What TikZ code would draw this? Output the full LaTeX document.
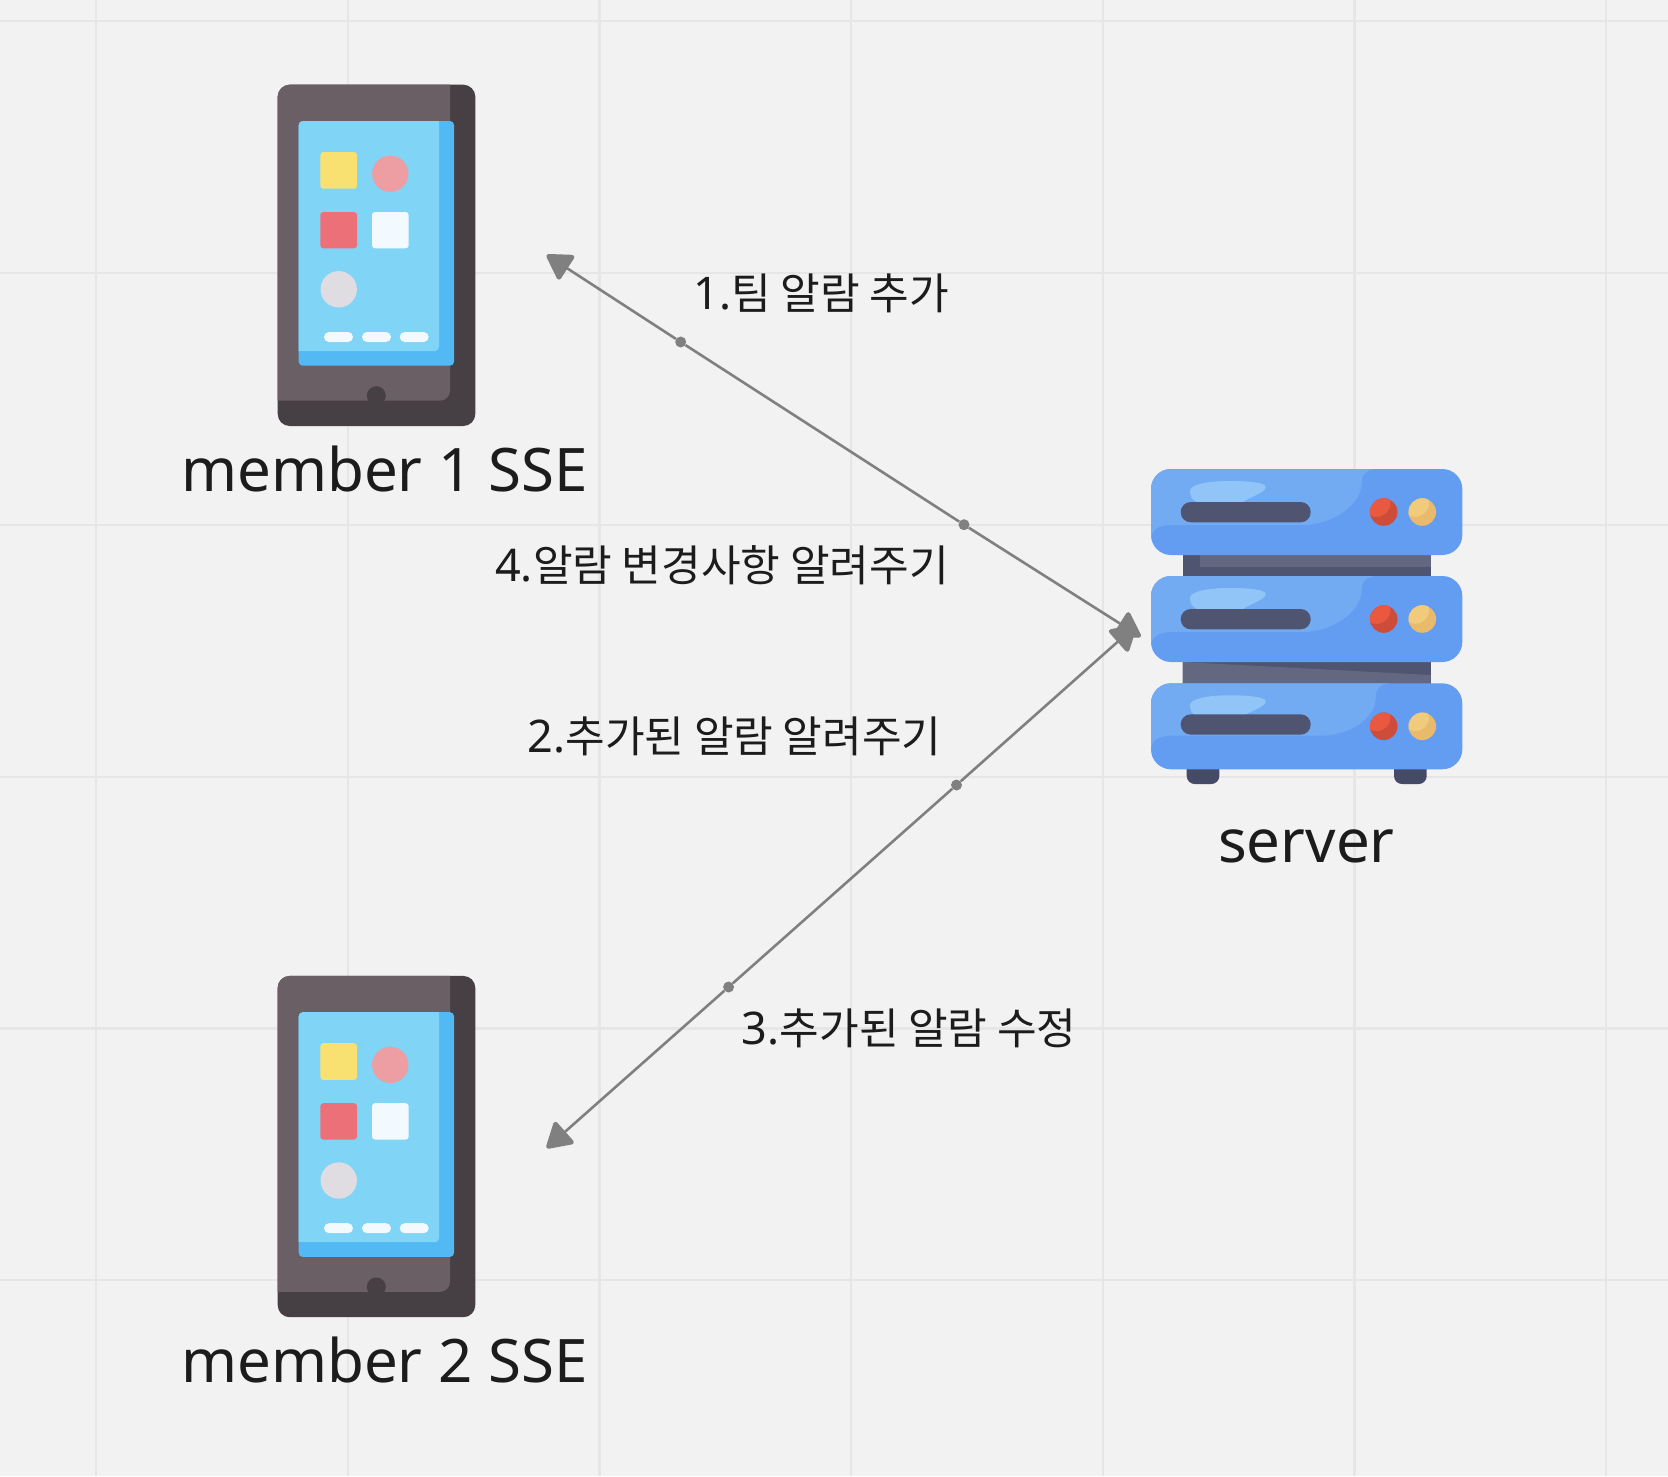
\documentclass[tikz,border=0pt]{standalone}
\usepackage{fontspec}
\setmainfont{Noto Sans}
\newfontfamily\krfont[Scale=0.958]{Noto Sans CJK KR}
\usetikzlibrary{arrows.meta}
\definecolor{boardbg}{HTML}{F2F2F2}
\definecolor{gridgray}{HTML}{E6E6E6}
\definecolor{inkdark}{HTML}{1C1C1C}
\definecolor{linkgray}{HTML}{808080}
\definecolor{bodylight}{HTML}{6B5F66}
\definecolor{bodydark}{HTML}{463F43}
\definecolor{screenlight}{HTML}{80D4F6}
\definecolor{screendark}{HTML}{52B9F5}
\definecolor{iconyellow}{HTML}{F9E171}
\definecolor{iconpink}{HTML}{EC9EA3}
\definecolor{iconred}{HTML}{EC7077}
\definecolor{iconwhite}{HTML}{F3FAFF}
\definecolor{icongray}{HTML}{DFDDE2}
\definecolor{rackdark}{HTML}{4F5471}
\definecolor{racklight}{HTML}{636780}
\definecolor{rackfoot}{HTML}{454B66}
\definecolor{blockdark}{HTML}{639DF2}
\definecolor{blocklight}{HTML}{72ABF2}
\definecolor{blockshine}{HTML}{92C5F7}
\definecolor{ledredA}{HTML}{CD4D3A}
\definecolor{ledredB}{HTML}{E8593F}
\definecolor{ledyellowA}{HTML}{E9B96C}
\definecolor{ledyellowB}{HTML}{EFCB7B}
\begin{document}
\begin{tikzpicture}
[x=1pt,y=-1pt,
  gridline/.style={gridgray,line width=2.4pt},%
  linkline/.style={linkgray,line width=2.6pt},%
  linktip/.style={{Triangle[round,length=27pt,width=31pt,line width=4.5pt]}-},%
  linkdot/.style={shape=circle,fill=linkgray,inner sep=0pt,minimum size=11pt},%
  biglabel/.style={anchor=base west,inner sep=0pt,text=inkdark,font=\fontsize{60pt}{72pt}\selectfont},%
  steplabel/.style={anchor=base west,inner sep=0pt,text=inkdark,font=\fontsize{45pt}{54pt}\selectfont}]
\useasboundingbox (0,0) rectangle (1668,1476);
\fill[boardbg] (0,0) rectangle (1668,1476);
%% grid of the board
\foreach \x in {96,347.7,599.4,851,1102.7,1354.3,1606}
  \draw[gridline] (\x,0) -- (\x,1476);
\foreach \y in {21,272.7,525,777,1028.5,1280}
  \draw[gridline] (0,\y) -- (1668,\y);
%% phones
\foreach \phonename/\dy/\labeltext in {one/0/member 1 SSE, two/891.2/member 2 SSE}
{
  \begin{scope}[shift={(0,\dy)}]
    \fill[bodydark,rounded corners=12] (277.7,84.7) rectangle (475.3,426);
    \fill[bodylight] (277.7,400.7) [rounded corners=12] -- (277.7,84.7) [sharp corners]
      -- (450,84.7) [rounded corners=10] -- (450,400.7) [sharp corners] -- cycle;
    \fill[bodydark] (376.3,395.7) circle (9.5);
    \fill[bodydark] (366,400.7) rectangle (387,405);
    \fill[screendark,rounded corners=4] (298.7,121) rectangle (454,365.7);
    \fill[screenlight] (298.7,351) [rounded corners=4] -- (298.7,121) [sharp corners]
      -- (439,121) [rounded corners=4] -- (439,351) [sharp corners] -- cycle;
    \fill[iconyellow,rounded corners=3] (320.3,152) rectangle (357,188.7);
    \fill[iconpink] (390.3,173.7) circle (18.2);
    \fill[iconred,rounded corners=3] (320.3,212) rectangle (357,248.3);
    \fill[iconwhite,rounded corners=3] (372,212) rectangle (408.7,248.3);
    \fill[icongray] (338.7,289.3) circle (18.2);
    \foreach \barleft/\barright in {324/353, 362/391, 399.7/428.7}
      \fill[iconwhite,rounded corners=5] (\barleft,332) rectangle (\barright,342);
    \node (label\phonename) at (181,491) [biglabel] {\labeltext};
  \end{scope}
}
%% server
\fill[rackdark] (1182.7,550) rectangle (1430.7,690);
\fill[racklight] (1200.3,550) rectangle (1430.7,567);
\fill[racklight] (1182.7,662) -- (1430.7,675) -- (1430.7,690) -- (1182.7,690) -- cycle;
\foreach \footleft/\footright in {1186.7/1219.3, 1394/1426.7}
  \fill[rackfoot,rounded corners=8] (\footleft,750) rectangle (\footright,784);
\foreach \blocktop/\cornerx/\curvex/\curvey/\bartop in {
  469/1361.7/1303/56/33, 576/1361.7/1303/56/33, 683.3/1375.7/1320/52.4/31}
{
  \begin{scope}[shift={(0,\blocktop)}]
    \fill[blockdark,rounded corners=20] (1151,0) rectangle (1462.3,86);
    \begin{scope}
      \clip[rounded corners=20] (1151,0) rectangle (1462.3,86);
      \fill[blocklight] (1140,-2) -- (\cornerx+16,-2) -- (\cornerx+16,0)
        .. controls (\cornerx+5,0) and (\cornerx,5) .. (\cornerx,14)
        .. controls (\cornerx,35) and (\curvex+30,\curvey) .. (\curvex,\curvey)
        -- (1170,\curvey) .. controls (1158,\curvey) and (1151,\curvey+6) .. (1151,\curvey+14)
        -- (1140,\curvey+14) -- cycle;
    \end{scope}
    \fill[blockshine] (1190,22) .. controls (1190,16) and (1205,12) .. (1230,12)
      .. controls (1250,12) and (1266,14) .. (1265.7,18)
      .. controls (1265,24) and (1250,28) .. (1243,33)
      -- (1197,33) .. controls (1192,31) and (1190,27) .. cycle;
    \fill[rackdark,rounded corners=10] (1180.7,\bartop) rectangle (1310.7,\bartop+20.3);
    \foreach \ledx/\leddark/\ledlight in {1383.7/ledredA/ledredB, 1422.3/ledyellowA/ledyellowB}
    {
      \fill[\leddark] (\ledx,43) circle (13.8);
      \begin{scope}
        \clip (\ledx,43) circle (13.8);
        \fill[\ledlight] (\ledx-7,34) circle (13.8);
      \end{scope}
    }
  \end{scope}
}
\node (labelserver) at (1218,862.5) [biglabel] {server};
%% links
\coordinate (tipone) at (546.7,255);
\coordinate (tiptwo) at (546.7,1148);
\coordinate (tipservera) at (1140.7,636.7);
\coordinate (tipserverb) at (1136,625.5);
\foreach \dotname/\x/\y in {dota/680.7/342, dotb/964/524.7, dotc/956.5/785, dotd/728.6/987}
  \node (\dotname) at (\x,\y) [linkdot] {};
\foreach \startnode/\endnode in {tipone/dota, tipservera/dotb, tiptwo/dotd, tipserverb/dotc}
  \draw[linkline,linktip] (\startnode) -- (\endnode);
\foreach \startnode/\endnode in {dota/dotb, dotc/dotd}
  \draw[linkline] (\startnode) -- (\endnode);
%% texts of the steps
\node (stepone) at (693.5,309.3) [steplabel] {1.{\krfont 팀 알람 추가}};
\node (stepfour) at (495,581.2) [steplabel] {4.{\krfont 알람 변경사항 알려주기}};
\node (steptwo) at (527.4,752.5) [steplabel] {2.{\krfont 추가된 알람 알려주기}};
\node (stepthree) at (741.7,1044.3) [steplabel] {3.{\krfont 추가된 알람 수정}};
\end{tikzpicture}
\end{document}
